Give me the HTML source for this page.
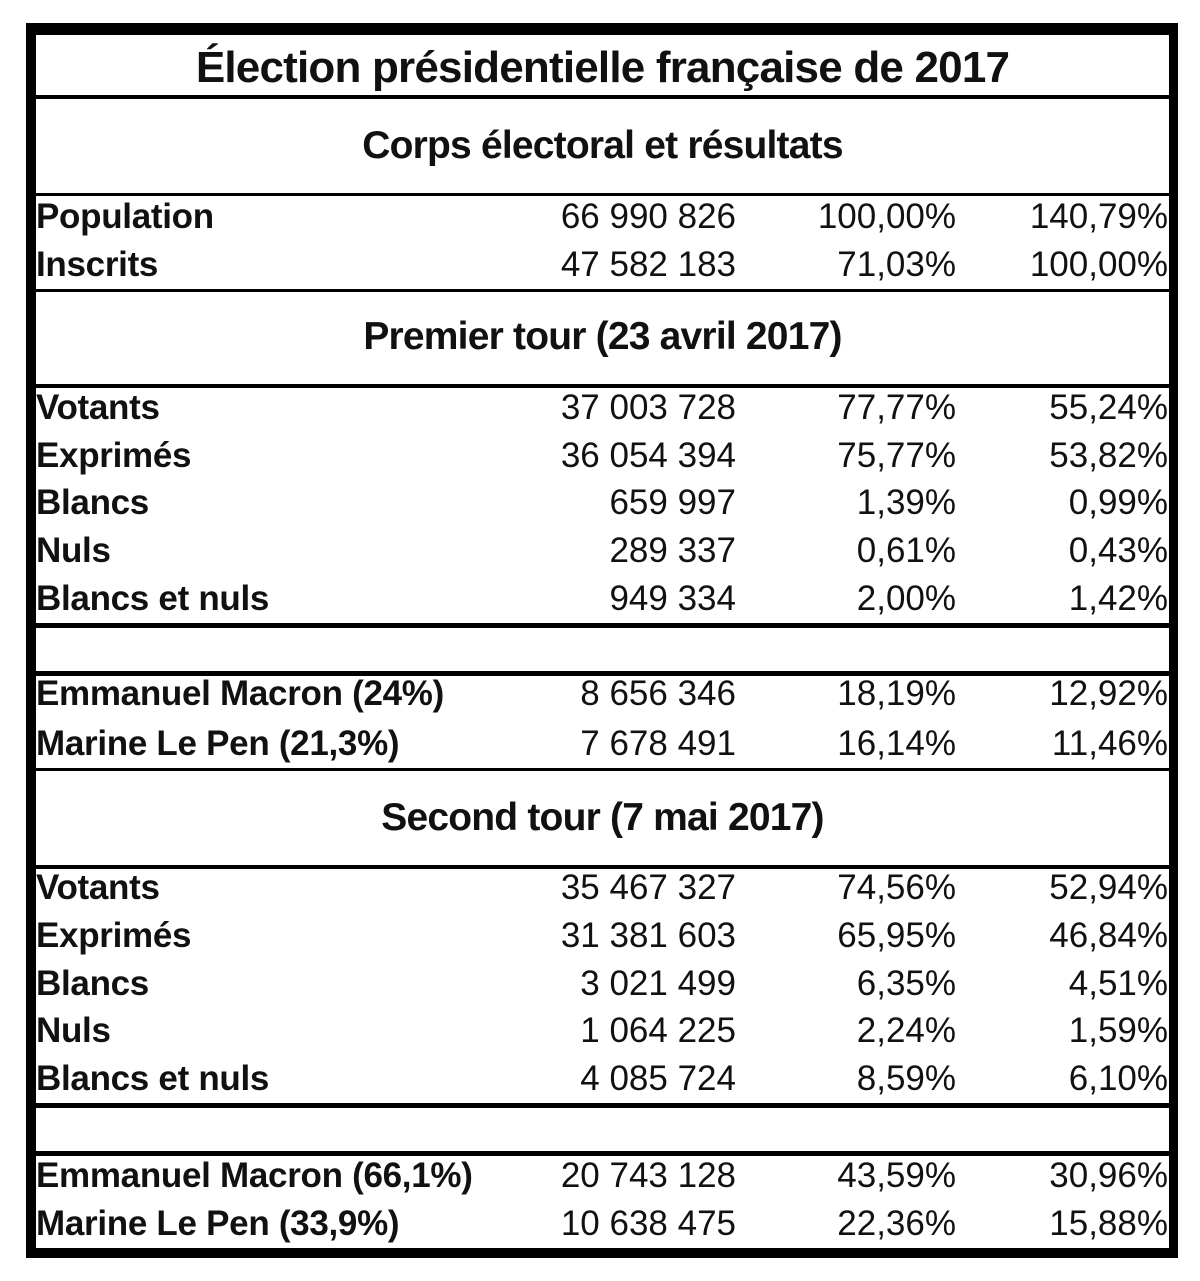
<!DOCTYPE html>
<html><head><meta charset="utf-8"><style>
body{margin:0;width:1200px;height:1281px;background:#fff;position:relative;font-family:"Liberation Sans",Arial,sans-serif;color:#111;overflow:hidden}
.b{position:absolute;background:#000}
.t{position:absolute;height:40px;line-height:40px;white-space:nowrap;font-size:35px}
.l{left:36px;font-weight:bold;letter-spacing:-0.3px}
.c2{right:464px;text-align:right}
.c3{right:244px;text-align:right}
.c4{right:32px;text-align:right}
.h{left:36px;width:1133px;text-align:center;font-weight:bold;font-size:39px;letter-spacing:-0.8px}
</style></head><body>
<div class="b" style="left:26px;top:23px;width:1152px;height:12px"></div>
<div class="b" style="left:26px;top:1248px;width:1152px;height:10px"></div>
<div class="b" style="left:26px;top:23px;width:10px;height:1235px"></div>
<div class="b" style="left:1169px;top:23px;width:9px;height:1235px"></div>
<div class="b" style="left:26px;top:95px;width:1152px;height:4px"></div>
<div class="b" style="left:26px;top:193px;width:1152px;height:3px"></div>
<div class="b" style="left:26px;top:289px;width:1152px;height:3px"></div>
<div class="b" style="left:26px;top:384px;width:1152px;height:4px"></div>
<div class="b" style="left:26px;top:623px;width:1152px;height:5px"></div>
<div class="b" style="left:26px;top:671px;width:1152px;height:5px"></div>
<div class="b" style="left:26px;top:768px;width:1152px;height:3px"></div>
<div class="b" style="left:26px;top:865px;width:1152px;height:4px"></div>
<div class="b" style="left:26px;top:1103px;width:1152px;height:5px"></div>
<div class="b" style="left:26px;top:1151px;width:1152px;height:5px"></div>

<div class="t h" style="top:45px;font-size:44px;height:46px;line-height:46px">Élection présidentielle française de 2017</div>
<div class="t h" style="top:126px">Corps électoral et résultats</div>
<div class="t h" style="top:317px">Premier tour (23 avril 2017)</div>
<div class="t h" style="top:798px">Second tour (7 mai 2017)</div>

<div class="t l" style="top:197px">Population</div><div class="t c2" style="top:197px">66 990 826</div><div class="t c3" style="top:197px">100,00%</div><div class="t c4" style="top:197px">140,79%</div>
<div class="t l" style="top:245px">Inscrits</div><div class="t c2" style="top:245px">47 582 183</div><div class="t c3" style="top:245px">71,03%</div><div class="t c4" style="top:245px">100,00%</div>

<div class="t l" style="top:388px">Votants</div><div class="t c2" style="top:388px">37 003 728</div><div class="t c3" style="top:388px">77,77%</div><div class="t c4" style="top:388px">55,24%</div>
<div class="t l" style="top:436px">Exprimés</div><div class="t c2" style="top:436px">36 054 394</div><div class="t c3" style="top:436px">75,77%</div><div class="t c4" style="top:436px">53,82%</div>
<div class="t l" style="top:483px">Blancs</div><div class="t c2" style="top:483px">659 997</div><div class="t c3" style="top:483px">1,39%</div><div class="t c4" style="top:483px">0,99%</div>
<div class="t l" style="top:531px">Nuls</div><div class="t c2" style="top:531px">289 337</div><div class="t c3" style="top:531px">0,61%</div><div class="t c4" style="top:531px">0,43%</div>
<div class="t l" style="top:579px">Blancs et nuls</div><div class="t c2" style="top:579px">949 334</div><div class="t c3" style="top:579px">2,00%</div><div class="t c4" style="top:579px">1,42%</div>

<div class="t l" style="top:674px">Emmanuel Macron (24%)</div><div class="t c2" style="top:674px">8 656 346</div><div class="t c3" style="top:674px">18,19%</div><div class="t c4" style="top:674px">12,92%</div>
<div class="t l" style="top:724px">Marine Le Pen (21,3%)</div><div class="t c2" style="top:724px">7 678 491</div><div class="t c3" style="top:724px">16,14%</div><div class="t c4" style="top:724px">11,46%</div>

<div class="t l" style="top:868px">Votants</div><div class="t c2" style="top:868px">35 467 327</div><div class="t c3" style="top:868px">74,56%</div><div class="t c4" style="top:868px">52,94%</div>
<div class="t l" style="top:916px">Exprimés</div><div class="t c2" style="top:916px">31 381 603</div><div class="t c3" style="top:916px">65,95%</div><div class="t c4" style="top:916px">46,84%</div>
<div class="t l" style="top:964px">Blancs</div><div class="t c2" style="top:964px">3 021 499</div><div class="t c3" style="top:964px">6,35%</div><div class="t c4" style="top:964px">4,51%</div>
<div class="t l" style="top:1011px">Nuls</div><div class="t c2" style="top:1011px">1 064 225</div><div class="t c3" style="top:1011px">2,24%</div><div class="t c4" style="top:1011px">1,59%</div>
<div class="t l" style="top:1059px">Blancs et nuls</div><div class="t c2" style="top:1059px">4 085 724</div><div class="t c3" style="top:1059px">8,59%</div><div class="t c4" style="top:1059px">6,10%</div>

<div class="t l" style="top:1156px">Emmanuel Macron (66,1%)</div><div class="t c2" style="top:1156px">20 743 128</div><div class="t c3" style="top:1156px">43,59%</div><div class="t c4" style="top:1156px">30,96%</div>
<div class="t l" style="top:1204px">Marine Le Pen (33,9%)</div><div class="t c2" style="top:1204px">10 638 475</div><div class="t c3" style="top:1204px">22,36%</div><div class="t c4" style="top:1204px">15,88%</div>
</body></html>
